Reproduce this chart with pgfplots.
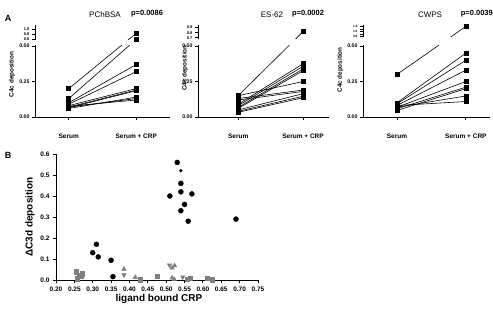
\documentclass[border=0pt]{standalone}
\usepackage{fontspec}
\setmainfont{Liberation Sans}
\usepackage{pgfplots}
\pgfplotsset{compat=1.18}

\definecolor{markgray}{RGB}{128,128,128}
\newcommand\up[1]{{\fontsize{4}{4}\selectfont #1}}
\newcommand\upt[1]{{\fontsize{3.2}{3.2}\selectfont #1}}

\pgfplotsset{
  c4c/.style={
    scale only axis, anchor=south west,
    height=92.3pt, ymin=0, ymax=0.65,
    axis lines=left, axis line style={-, line width=0.9pt},
    tick align=outside, major tick length=3pt,
    tick style={black, line width=0.9pt},
    xtick={1,2}, xticklabels={Serum, Serum + CRP},
    xticklabel style={font=\fontsize{6.5}{7}\selectfont\bfseries, yshift=-10pt},
    yticklabel style={font=\fontsize{5.2}{5.5}\selectfont\bfseries, xshift=1pt},
    ylabel={C4c deposition},
    ylabel style={font=\fontsize{6.3}{7}\selectfont\bfseries, anchor=center},
    clip=false,
  },
  pair/.style={black, line width=0.6pt, mark=square*, mark size=2pt, mark options={solid}},
}

\begin{document}
\begin{tikzpicture}[x=1pt,y=1pt]
\path[use as bounding box] (0,0) rectangle (493,309);

% ---- PChBSA ----
\begin{axis}[c4c, at={(35pt,192pt)}, width=135pt, xmin=0.5, xmax=2.5,
  y filter/.expression={y>0.5 ? 0.547+(y-0.6)*0.1775 : y},
  ytick={0,0.25,0.5,0.547,0.582,0.618},
  yticklabels={0.00,0.25,0.50,\up{0.6},\up{0.8},\up{1.0}},
  ylabel style={at={(axis description cs:-0.17,0.46)}}]
\addplot[pair] coordinates {(1,0.20) (2,0.84)};
\addplot[pair] coordinates {(1,0.13) (2,0.60)};
\addplot[pair] coordinates {(1,0.10) (2,0.37)};
\addplot[pair] coordinates {(1,0.09) (2,0.32)};
\addplot[pair] coordinates {(1,0.08) (2,0.20)};
\addplot[pair] coordinates {(1,0.07) (2,0.19)};
\addplot[pair] coordinates {(1,0.065) (2,0.185)};
\addplot[pair] coordinates {(1,0.06) (2,0.14)};
\addplot[pair] coordinates {(1,0.07) (2,0.13)};
\addplot[pair] coordinates {(1,0.075) (2,0.12)};
\fill[white] (rel axis cs:-0.012,0.777) rectangle (rel axis cs:1,0.831);
\end{axis}

% ---- ES-62 ----
\begin{axis}[c4c, at={(198pt,192pt)}, width=131pt, xmin=0.38, xmax=2.4,
  y filter/.expression={y>0.5 ? 0.558+(y-0.7)*0.36 : y},
  ytick={0,0.25,0.5,0.558,0.594,0.630},
  yticklabels={0.00,0.25,0.50,\up{0.7},\up{0.8},\up{0.9}},
  ylabel style={at={(axis description cs:-0.10,0.53)}}]
\addplot[pair] coordinates {(1,0.15) (2,0.82)};
\addplot[pair] coordinates {(1,0.15) (2,0.25)};
\addplot[pair] coordinates {(1,0.13) (2,0.19)};
\addplot[pair] coordinates {(1,0.12) (2,0.18)};
\addplot[pair] coordinates {(1,0.09) (2,0.375)};
\addplot[pair] coordinates {(1,0.08) (2,0.357)};
\addplot[pair] coordinates {(1,0.068) (2,0.338)};
\addplot[pair] coordinates {(1,0.06) (2,0.326)};
\addplot[pair] coordinates {(1,0.05) (2,0.164)};
\addplot[pair] coordinates {(1,0.04) (2,0.146)};
\addplot[pair] coordinates {(1,0.033) (2,0.136)};
\fill[white] (rel axis cs:-0.012,0.777) rectangle (rel axis cs:1,0.846);
\end{axis}

% ---- CWPS ----
\begin{axis}[c4c, at={(363pt,192pt)}, width=127pt, xmin=0.507, xmax=2.35,
  y filter/.expression={y>0.5 ? 0.566+(y-0.6)*0.09 : y},
  ytick={0,0.25,0.5,0.566,0.584,0.602,0.620,0.638},
  yticklabels={0.00,0.25,0.50,\upt{0.6},,\upt{1.0},,\upt{1.4}},
  ylabel style={at={(axis description cs:-0.18,0.51)}}]
\addplot[pair] coordinates {(1,0.30) (2,1.40)};
\addplot[pair] coordinates {(1,0.10) (2,0.45)};
\addplot[pair] coordinates {(1,0.093) (2,0.40)};
\addplot[pair] coordinates {(1,0.081) (2,0.33)};
\addplot[pair] coordinates {(1,0.069) (2,0.25)};
\addplot[pair] coordinates {(1,0.058) (2,0.21)};
\addplot[pair] coordinates {(1,0.046) (2,0.20)};
\addplot[pair] coordinates {(1,0.069) (2,0.148)};
\addplot[pair] coordinates {(1,0.081) (2,0.109)};
\fill[white] (rel axis cs:-0.012,0.777) rectangle (rel axis cs:1,0.862);
\end{axis}

% ---- panel B ----
\begin{axis}[scale only axis, anchor=south west, at={(56pt,29pt)},
  width=202pt, height=126pt,
  xmin=0.2, xmax=0.75, ymin=0, ymax=0.6,
  axis lines=left, axis line style={-, line width=0.9pt},
  tick align=outside, major tick length=3pt,
  tick style={black, line width=0.9pt},
  xtick={0.20,0.25,...,0.76}, ytick={0,0.1,...,0.61},
  /pgf/number format/assume math mode=true,
  xticklabel style={font=\fontsize{6.5}{7}\selectfont\bfseries,
    /pgf/number format/fixed, /pgf/number format/fixed zerofill,
    /pgf/number format/precision=2},
  yticklabel style={font=\fontsize{6.5}{7}\selectfont\bfseries,
    /pgf/number format/fixed, /pgf/number format/fixed zerofill,
    /pgf/number format/precision=1},
  xlabel={ligand bound CRP}, ylabel={ΔC3d deposition},
  xlabel style={font=\fontsize{10}{11}\selectfont\bfseries, at={(axis description cs:0.51,-0.15)}, anchor=center},
  ylabel style={font=\fontsize{10}{11}\selectfont\bfseries, at={(axis description cs:-0.129,0.5)}, anchor=center},
  clip=false]
\addplot[only marks, mark=*, mark size=2.5pt, black] coordinates {
  (0.53,0.56) (0.54,0.46) (0.54,0.42) (0.51,0.40) (0.57,0.41) (0.55,0.36)
  (0.54,0.33) (0.56,0.28) (0.69,0.29) (0.30,0.13) (0.31,0.17) (0.315,0.11)
  (0.35,0.094) (0.355,0.016)};
\addplot[only marks, mark=*, mark size=1.5pt, black] coordinates {(0.54,0.52)};
\addplot[only marks, mark=square*, mark size=2.2pt, markgray] coordinates {
  (0.255,0.040) (0.257,0.006) (0.264,0.024) (0.271,0.030) (0.268,0.018)
  (0.43,0.002) (0.475,0.019) (0.558,0.005) (0.566,0.008) (0.611,0.008) (0.625,0.002)};
\addplot[only marks, mark=triangle*, mark size=2.6pt, markgray] coordinates {
  (0.385,0.052) (0.416,0.013) (0.516,0.058) (0.523,0.068) (0.516,0.010) (0.522,0.003)};
\addplot[only marks, mark=triangle*, mark size=2.6pt, markgray, mark options={rotate=180}] coordinates {
  (0.385,0.024) (0.509,0.071) (0.545,0.014)};
\end{axis}

% panel letters and titles
\node[font=\fontsize{9}{10}\selectfont\bfseries] at (8,291) {A};
\node[font=\fontsize{9}{10}\selectfont\bfseries] at (8,154) {B};
\node[font=\fontsize{8}{9}\selectfont] at (105,294) {PChBSA};
\node[font=\fontsize{7.5}{9}\selectfont\bfseries] at (147,295) {p=0.0086};
\node[font=\fontsize{8}{9}\selectfont] at (272,294) {ES-62};
\node[font=\fontsize{7.5}{9}\selectfont\bfseries] at (308,295) {p=0.0002};
\node[font=\fontsize{8}{9}\selectfont] at (430,294) {CWPS};
\node[font=\fontsize{7.5}{9}\selectfont\bfseries, anchor=east, inner xsep=0pt] at (493,295) {p=0.0039};
\end{tikzpicture}
\end{document}
